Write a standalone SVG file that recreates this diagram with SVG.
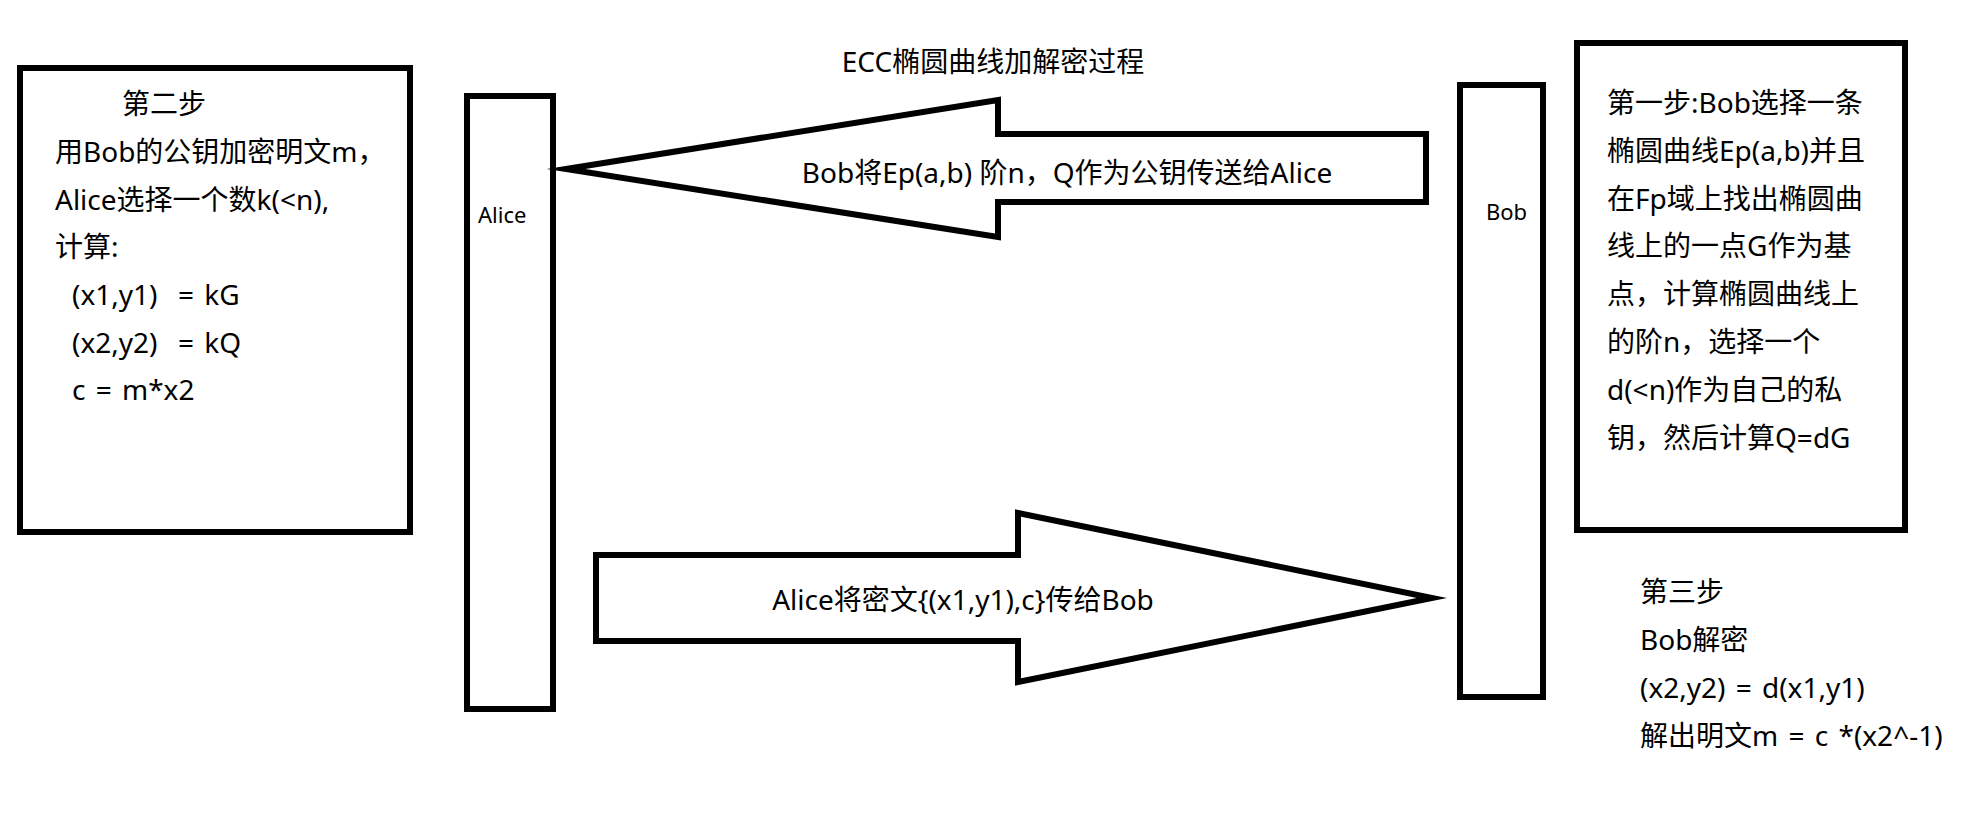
<svg xmlns="http://www.w3.org/2000/svg" width="1964" height="825" viewBox="0 0 1964 825">
<style>
  .bg { fill: #ffffff; }
  .box { fill: #ffffff; stroke: #000000; stroke-width: 6; }
  .arrow { fill: #ffffff; stroke: #000000; stroke-width: 6; stroke-linejoin: miter; stroke-miterlimit: 10; }
  .t { font-family: 'Noto Sans', 'Noto Sans CJK SC', sans-serif; font-size: 28px; fill: #000000; }
  .small { font-family: 'Noto Sans', 'Noto Sans CJK SC', sans-serif; font-size: 22px; fill: #000000; }
  .mid { text-anchor: middle; }
  .ws { word-spacing: 3px; }
</style>
<rect class="bg" x="0" y="0" width="1964" height="825"/>

<g id="title">
  <text class="t mid" x="993" y="72">ECC椭圆曲线加解密过程</text>
</g>

<g id="step2">
  <rect class="box" x="20" y="68" width="390" height="464"/>
  <text class="t" xml:space="preserve">
    <tspan x="122" y="114">第二步</tspan>
    <tspan x="55" y="162">用Bob的公钥加密明文m，</tspan>
    <tspan x="55" y="210">Alice选择一个数k(&lt;n),</tspan>
    <tspan x="55" y="257">计算:</tspan>
    <tspan class="ws" x="72" y="305">(x1,y1)  = kG</tspan>
    <tspan class="ws" x="72" y="353">(x2,y2)  = kQ</tspan>
    <tspan class="ws" x="72" y="400">c = m*x2</tspan>
  </text>
</g>

<g id="alice">
  <rect class="box" x="467" y="96" width="86" height="613"/>
  <text class="small" x="478" y="223">Alice</text>
</g>

<g id="bob">
  <rect class="box" x="1460" y="85" width="83" height="612"/>
  <text class="small" x="1486" y="220">Bob</text>
</g>

<g id="step1">
  <rect class="box" x="1577" y="43" width="328" height="487"/>
  <text class="t">
    <tspan x="1607" y="113">第一步:Bob选择一条</tspan>
    <tspan x="1607" y="161">椭圆曲线Ep(a,b)并且</tspan>
    <tspan x="1607" y="209">在Fp域上找出椭圆曲</tspan>
    <tspan x="1607" y="256">线上的一点G作为基</tspan>
    <tspan x="1607" y="304">点，计算椭圆曲线上</tspan>
    <tspan x="1607" y="352">的阶n，选择一个</tspan>
    <tspan x="1607" y="400">d(&lt;n)作为自己的私</tspan>
    <tspan x="1607" y="448">钥，然后计算Q=dG</tspan>
  </text>
</g>

<g id="step3">
  <text class="t" xml:space="preserve">
    <tspan x="1640" y="602">第三步</tspan>
    <tspan x="1640" y="650">Bob解密</tspan>
    <tspan class="ws" x="1640" y="698">(x2,y2) = d(x1,y1)</tspan>
    <tspan class="ws" x="1640" y="746">解出明文m = c *(x2^-1)</tspan>
  </text>
</g>

<g id="connectors">
  <g id="arrow-bob-to-alice">
    <path class="arrow" d="M566,169 L998,100 L998,134 L1426,134 L1426,202 L998,202 L998,237 Z"/>
    <text class="t mid" x="1067" y="183" xml:space="preserve">Bob将Ep(a,b) 阶n，Q作为公钥传送给Alice</text>
  </g>
  <g id="arrow-alice-to-bob">
    <path class="arrow" d="M596,555 L1018,555 L1018,513 L1432,598 L1018,682 L1018,641 L596,641 Z"/>
    <text class="t mid" x="963" y="610">Alice将密文{(x1,y1),c}传给Bob</text>
  </g>
</g>
</svg>
